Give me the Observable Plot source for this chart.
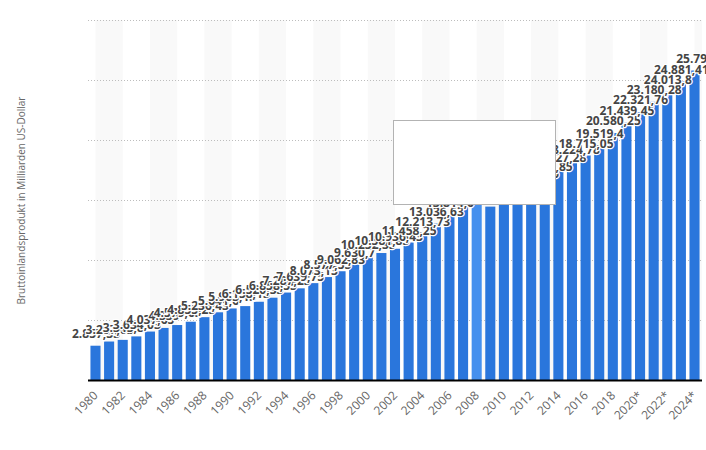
<!DOCTYPE html>
<html>
<head>
<meta charset="utf-8">
<script src="https://cdn.jsdelivr.net/npm/d3@7"></script>
<script src="https://cdn.jsdelivr.net/npm/@observablehq/plot@0.6"></script>
<style>
  html, body { margin: 0; padding: 0; background: #fff; }
  #wrap { position: relative; width: 706px; height: 450px; overflow: hidden; }
  #tip { position: absolute; left: 393px; top: 120px; width: 161px; height: 83px;
         background: #fff; border: 1px solid #b3b3b3; }
</style>
</head>
<body>
<div id="wrap"><div id="chart"></div><div id="tip"></div></div>
<script>
const years = d3.range(1980, 2025);
const gdp = [
  2857.33, 3207.03, 3343.8, 3634.03, 4037.65, 4339, 4579.63, 4855.25, 5236.43, 5641.6,
  5963.13, 6158.13, 6520.33, 6858.55, 7287.25, 7639.75, 8073.13, 8577.55, 9062.83, 9630.7,
  10252.35, 10581.83, 10936.43, 11458.25, 12213.73, 13036.63, 13814.6, 14451.85, 14712.83, 14448.93,
  14992.05, 15542.58, 16197.05, 16784.85, 17527.28, 18224.78, 18715.05, 19519.4, 20580.25, 21439.45,
  22321.76, 23180.28, 24013.8, 24881.41, 25793
];
const forecastFrom = 2020;
const highlightYear = 2008;
const tickYears = d3.range(1980, 2025, 2);
const gridValues = [5000, 10000, 15000, 20000, 25000, 30000];
const shadeStarts = d3.range(1980, 2025, 4);
const yTitle = "Bruttoinlandsprodukt in Milliarden US-Dollar";

const data = years.map((y, i) => ({year: y, value: gdp[i]}));
const fmt = v => v.toLocaleString("de-DE", {maximumFractionDigits: 2});
const half = 0.37;

const chart = Plot.plot({
  width: 706,
  height: 450,
  marginLeft: 88,
  marginRight: 4,
  marginTop: 20,
  marginBottom: 70,
  style: {fontFamily: "'Open Sans', sans-serif", background: "transparent"},
  x: {domain: [1979.45, 2024.55]},
  y: {domain: [0, 30000]},
  marks: [
    Plot.rect(shadeStarts, {x1: d => d, x2: d => d + 2, y1: 0, y2: 30000, fill: "#f9f9f9", clip: true}),
    Plot.gridY(gridValues, {stroke: "#bdbdbd", strokeOpacity: 1, strokeDasharray: "1,2"}),
    Plot.rectY(data, {
      x1: d => d.year - half, x2: d => d.year + half, y1: 0, y2: "value",
      fill: d => d.year === highlightYear ? "#4590ee" : "#2a76dc"
    }),
    Plot.ruleY([0], {stroke: "#000", strokeWidth: 2}),
    Plot.text(data, {
      x: "year", y: "value", text: d => fmt(d.value), dy: -12,
      fill: "#454545", stroke: "white", strokeWidth: 2.5, fontWeight: 700, fontSize: 12
    }),
    Plot.axisX(tickYears, {
      tickSize: 0, tickPadding: 13, tickRotate: -45, fontSize: 12, fill: "#666",
      tickFormat: y => y >= forecastFrom ? y + "*" : String(y), label: null
    }),
    Plot.axisY([], {label: null}),
    Plot.text([yTitle], {frameAnchor: "left", textAnchor: "middle", rotate: -90, dx: -67, fontSize: 10, fill: "#666"})
  ]
});
document.getElementById("chart").appendChild(chart);
</script>
</body>
</html>
